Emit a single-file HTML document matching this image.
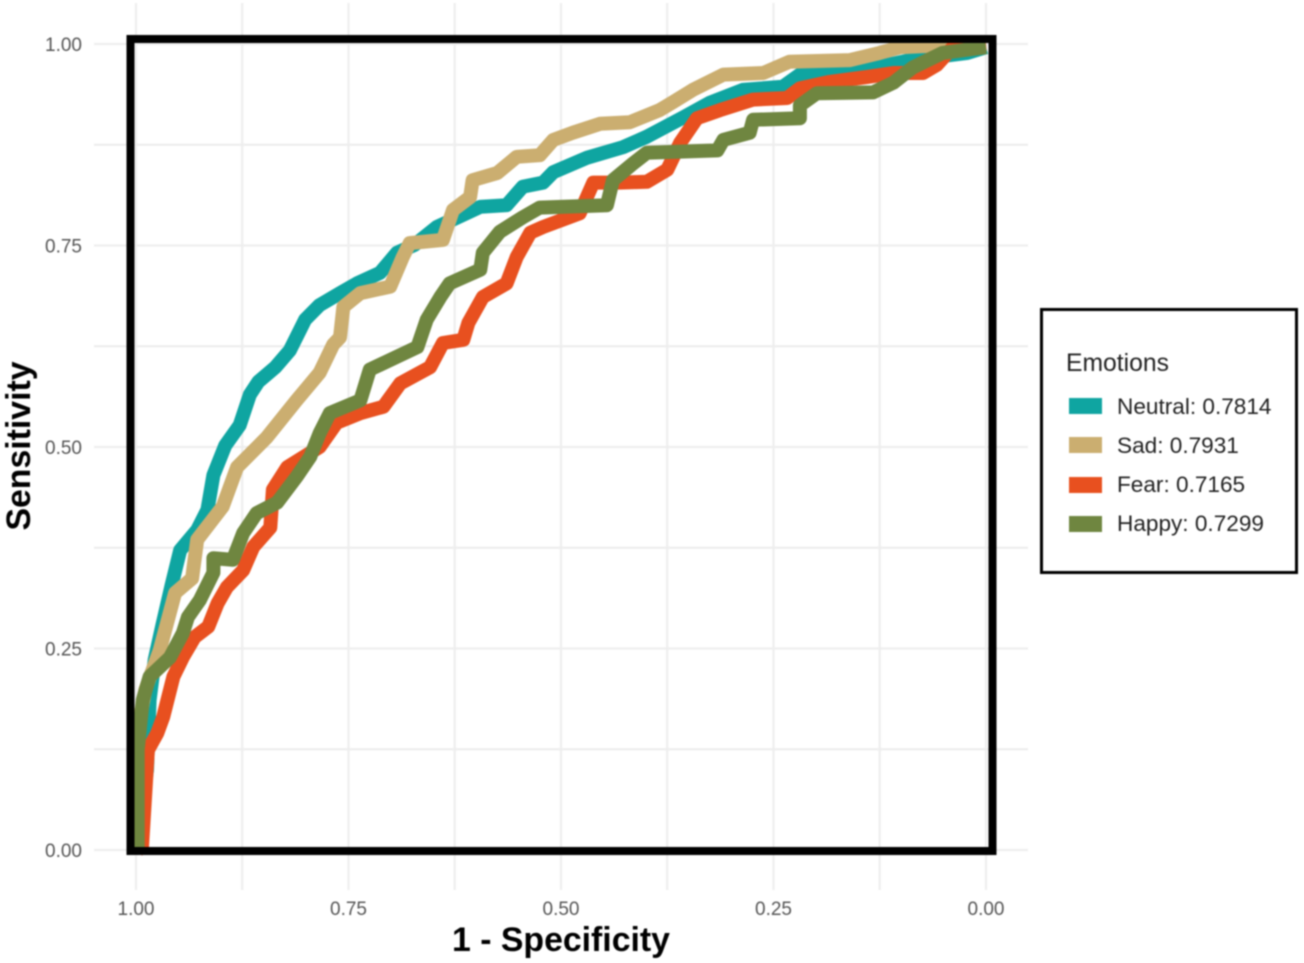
<!DOCTYPE html>
<html lang="en">
<head>
<meta charset="utf-8">
<title>ROC curves by emotion</title>
<style>
html,body{margin:0;padding:0;background:#fff;width:1304px;height:963px;overflow:hidden}
svg{display:block;font-family:"Liberation Sans",sans-serif;filter:blur(0.7px)}
</style>
</head>
<body>
<svg id="chart" xmlns="http://www.w3.org/2000/svg" width="1304" height="963" viewBox="0 0 1304 963">
  <g id="grid"></g>
  <g id="series"></g>
  <rect x="130.5" y="39" width="862" height="812" fill="none" stroke="#000" stroke-width="8"/>
  <g id="xticks" font-size="19" fill="#555" text-anchor="middle"></g>
  <g id="yticks" font-size="19" fill="#555" text-anchor="end"></g>
  <text x="561" y="951" font-size="33.8" font-weight="bold" text-anchor="middle" fill="#000">1 - Specificity</text>
  <text transform="translate(30,446) rotate(-90)" font-size="33.8" font-weight="bold" text-anchor="middle" fill="#000">Sensitivity</text>
  <g>
    <rect x="1041.5" y="309.5" width="255" height="263" fill="#fff" stroke="#000" stroke-width="3"/>
    <text x="1066" y="371" font-size="24.7" fill="#222">Emotions</text>
    <rect x="1069" y="398" width="33" height="16" fill="#0fa5a1"/>
    <text x="1117" y="414" font-size="22.6" fill="#222">Neutral: 0.7814</text>
    <rect x="1069" y="437" width="33" height="16" fill="#cbae70"/>
    <text x="1117" y="453" font-size="22.6" fill="#222">Sad: 0.7931</text>
    <rect x="1069" y="477" width="33" height="16" fill="#e8501f"/>
    <text x="1117" y="492" font-size="22.6" fill="#222">Fear: 0.7165</text>
    <rect x="1069" y="516" width="33" height="16" fill="#6f8640"/>
    <text x="1117" y="531" font-size="22.6" fill="#222">Happy: 0.7299</text>
  </g>
</svg>
<script>
const xTickValues = [1, 0.75, 0.5, 0.25, 0];
const yTickValues = [0, 0.25, 0.5, 0.75, 1];
const xTickLabels = ["1.00", "0.75", "0.50", "0.25", "0.00"];
const yTickLabels = ["0.00", "0.25", "0.50", "0.75", "1.00"];
const minorGridValues = [0.125, 0.375, 0.625, 0.875];

const neutralX = [.999,.992,.987,.984,.978,.969,.958,.948,.928,.916,.909,.895,.878,.866,.856,.836,.819,.801,.784,.760,.740,.713,.693,.672,.646,.595,.564,.545,.521,.509,.469,.427,.399,.356,.325,.286,.239,.219,.156,.089,.022,0];
const neutralY = [0,.062,.099,.186,.236,.279,.329,.372,.397,.422,.465,.502,.527,.565,.581,.599,.620,.658,.676,.691,.703,.716,.741,.751,.773,.798,.800,.823,.828,.841,.859,.872,.885,.909,.927,.943,.947,.962,.965,.980,.989,.996];

const sadX = [.999,.998,.989,.972,.954,.934,.928,.898,.881,.846,.811,.784,.768,.760,.756,.736,.701,.686,.678,.639,.627,.607,.604,.575,.552,.525,.509,.486,.454,.419,.384,.368,.345,.309,.262,.231,.160,.125,.101,.062,0];
const sadY = [0,.149,.199,.248,.319,.337,.385,.426,.475,.512,.558,.592,.627,.636,.674,.691,.699,.736,.753,.757,.794,.810,.831,.840,.860,.862,.881,.890,.901,.903,.918,.928,.943,.962,.964,.978,.980,.989,.996,.998,1];

const fearX = [.998,.993,.986,.975,.968,.956,.945,.931,.915,.904,.893,.874,.862,.842,.839,.822,.784,.764,.736,.709,.689,.654,.639,.615,.609,.592,.564,.552,.536,.521,.478,.462,.431,.399,.375,.360,.340,.313,.274,.234,.219,.184,.140,.109,.074,.058,.039,0];
const fearY = [0,.004,.124,.145,.165,.215,.239,.264,.277,.306,.326,.347,.376,.400,.447,.475,.500,.530,.542,.550,.579,.599,.629,.633,.654,.686,.703,.736,.766,.773,.790,.828,.828,.829,.844,.877,.908,.918,.931,.933,.945,.953,.959,.964,.964,.974,.996,1];

const happyX = [.998,.998,.992,.984,.960,.945,.939,.925,.909,.909,.886,.874,.858,.834,.811,.795,.784,.772,.736,.725,.669,.658,.642,.631,.595,.592,.572,.545,.525,.446,.439,.415,.399,.316,.309,.278,.274,.219,.219,.199,.133,.109,.086,.051,0];
const happyY = [0,.124,.186,.215,.239,.269,.289,.310,.344,.362,.360,.393,.418,.431,.463,.488,.517,.542,.558,.596,.624,.658,.686,.703,.720,.741,.767,.785,.797,.800,.831,.852,.865,.868,.881,.890,.906,.908,.924,.939,.940,.952,.971,.989,.996];

const NS = "http://www.w3.org/2000/svg";
function xScale(v) { return 986 - 850 * v; }
function yScale(v) { return 850 - 806 * v; }

function addGridLine(x1, y1, x2, y2, name) {
  const g = document.createElementNS(NS, "line");
  g.setAttribute("x1", x1); g.setAttribute("y1", y1);
  g.setAttribute("x2", x2); g.setAttribute("y2", y2);
  g.setAttribute("stroke", "#eeeeee");
  g.setAttribute("stroke-width", "2.2");
  
  
  document.getElementById("grid").appendChild(g);
}
xTickValues.concat(minorGridValues).forEach(function (v) {
  addGridLine(xScale(v), 3, xScale(v), 890, "vertical-grid-line");
});
yTickValues.concat(minorGridValues).forEach(function (v) {
  addGridLine(94, yScale(v), 1028, yScale(v), "horizontal-grid-line");
});

xTickValues.forEach(function (v, i) {
  const t = document.createElementNS(NS, "text");
  t.setAttribute("x", xScale(v));
  t.setAttribute("y", 915);
  t.textContent = xTickLabels[i];
  
  
  document.getElementById("xticks").appendChild(t);
});
yTickValues.forEach(function (v, i) {
  const t = document.createElementNS(NS, "text");
  t.setAttribute("x", 82);
  t.setAttribute("y", yScale(v) + 7);
  t.textContent = yTickLabels[i];
  
  
  document.getElementById("yticks").appendChild(t);
});

function drawCurve(xs, ys, color, name) {
  const d = xs.map(function (v, i) {
    return (i ? "L" : "M") + xScale(v).toFixed(1) + " " + yScale(ys[i]).toFixed(1);
  }).join(" ");
  const p = document.createElementNS(NS, "path");
  p.setAttribute("d", d);
  p.setAttribute("fill", "none");
  p.setAttribute("stroke", color);
  p.setAttribute("stroke-width", "14");
  p.setAttribute("stroke-linejoin", "round");
  p.setAttribute("stroke-linecap", "butt");
  
  
  document.getElementById("series").appendChild(p);
}
drawCurve(neutralX, neutralY, "#0fa5a1", "curve-neutral");
drawCurve(sadX, sadY, "#cbae70", "curve-sad");
drawCurve(fearX, fearY, "#e8501f", "curve-fear");
drawCurve(happyX, happyY, "#6f8640", "curve-happy");
</script>
</body>
</html>
